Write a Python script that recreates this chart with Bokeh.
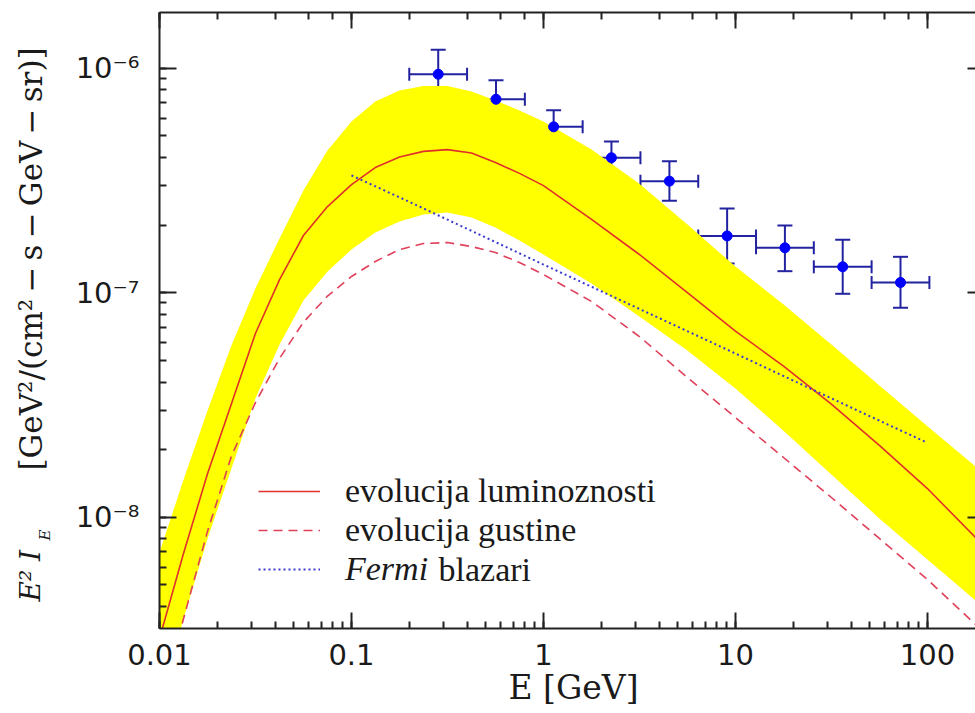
from bokeh.plotting import figure
from bokeh.models import (Range1d, LogAxis, LogTicker, CustomJSTickFormatter, Label,
                          Legend, LegendItem, Whisker, TeeHead, ColumnDataSource)
from bokeh.embed import file_html
from bokeh.resources import INLINE
import math

# Energy grid for the model curves [GeV]
energy = [0.01, 0.0133, 0.0178, 0.0237, 0.0316, 0.0422, 0.0562, 0.075, 0.1, 0.133,
          0.178, 0.237, 0.316, 0.422, 0.562, 0.75, 1.0, 1.78, 3.16, 5.62, 10, 17.8,
          31.6, 56.2, 100, 178]

# Luminosity-evolution model (solid) and its uncertainty band
lum_evol = [2.88e-9, 6.84e-9, 1.565e-8, 3.20e-8, 6.58e-8, 1.143e-7, 1.798e-7, 2.42e-7,
            3.03e-7, 3.61e-7, 4.02e-7, 4.26e-7, 4.34e-7, 4.19e-7, 3.80e-7, 3.40e-7,
            3.00e-7, 2.12e-7, 1.480e-7, 1.002e-7, 6.75e-8, 4.71e-8, 3.19e-8, 2.09e-8,
            1.342e-8, 8.12e-9]
band_upper = [6.96e-9, 1.457e-8, 2.99e-8, 5.82e-8, 1.044e-7, 1.744e-7, 2.85e-7, 4.30e-7,
              5.79e-7, 7.11e-7, 7.96e-7, 8.33e-7, 8.33e-7, 7.87e-7, 7.18e-7, 6.48e-7,
              5.79e-7, 4.34e-7, 3.06e-7, 2.012e-7, 1.308e-7, 8.86e-8, 5.88e-8, 3.86e-8,
              2.54e-8, 1.682e-8]
band_lower = [1.479e-9, 3.50e-9, 8.04e-9, 1.648e-8, 3.38e-8, 5.88e-8, 9.23e-8, 1.243e-7,
              1.557e-7, 1.854e-7, 2.076e-7, 2.23e-7, 2.276e-7, 2.163e-7, 1.952e-7, 1.708e-7,
              1.480e-7, 1.099e-7, 7.83e-8, 5.53e-8, 3.74e-8, 2.43e-8, 1.549e-8, 9.87e-9,
              6.48e-9, 4.26e-9]

# Density-evolution model (dashed)
dens_evol = [1.377e-9, 3.50e-9, 8.67e-9, 1.872e-8, 3.24e-8, 5.10e-8, 7.39e-8, 9.66e-8,
             1.181e-7, 1.377e-7, 1.557e-7, 1.656e-7, 1.673e-7, 1.606e-7, 1.510e-7, 1.363e-7,
             1.205e-7, 9.14e-8, 6.38e-8, 4.19e-8, 2.78e-8, 1.845e-8, 1.224e-8, 8.04e-9,
             5.28e-9, 3.33e-9]

# Fermi blazar contribution (dotted)
blazar_e = [0.1, 0.2, 0.5, 1, 2, 5, 10, 20, 50, 100]
blazar_flux = [3.33e-7, 2.54e-7, 1.762e-7, 1.335e-7, 1.015e-7, 7.06e-8, 5.36e-8,
               4.06e-8, 2.82e-8, 2.145e-8]

# Measured diffuse background: bin centres, bin edges and flux with errors
data_e = [0.283, 0.566, 1.13, 2.26, 4.53, 9.05, 18.1, 36.2, 72.4]
data_e_lo = [0.2, 0.4, 0.8, 1.6, 3.2, 6.4, 12.8, 25.6, 51.2]
data_e_hi = [0.4, 0.8, 1.6, 3.2, 6.4, 12.8, 25.6, 51.2, 102.4]
data_flux = [9.40e-7, 7.27e-7, 5.48e-7, 3.99e-7, 3.14e-7, 1.79e-7, 1.585e-7, 1.304e-7, 1.110e-7]
data_flux_hi = [1.208e-6, 8.84e-7, 6.50e-7, 4.72e-7, 3.85e-7, 2.37e-7, 1.99e-7, 1.72e-7, 1.445e-7]
data_flux_lo = [7.33e-7, 6.01e-7, 4.63e-7, 3.36e-7, 2.57e-7, 1.349e-7, 1.247e-7, 9.89e-8, 8.57e-8]

X_MIN, X_MAX = 0.01, 178.0
Y_MIN, Y_MAX = 10 ** -8.4957, 10 ** -5.7519

# frame geometry in canvas pixels
FRAME_LEFT, FRAME_TOP, FRAME_RIGHT, FRAME_BOTTOM = 159, 12, 975, 628
CANVAS_W, CANVAS_H = 975, 713
PX_PER_DEC_X = (FRAME_RIGHT - FRAME_LEFT) / (math.log10(X_MAX) - math.log10(X_MIN))
PX_PER_DEC_Y = (FRAME_BOTTOM - FRAME_TOP) / (math.log10(Y_MAX) - math.log10(Y_MIN))


def canvas_x(px):
    """Data x that lands on canvas column px."""
    return 10 ** (math.log10(X_MIN) + (px - FRAME_LEFT) / PX_PER_DEC_X)


def canvas_y(py):
    """Data y that lands on canvas row py (measured from the top)."""
    return 10 ** (math.log10(Y_MIN) + (FRAME_BOTTOM - py) / PX_PER_DEC_Y)


AXIS_COLOR = "#222222"
TICK_FONT = "DejaVu Sans"
TITLE_FONT = "DejaVu Serif"
LEGEND_FONT = "Liberation Serif"
TEXT_COLOR = "#1a1a1a"

p = figure(width=CANVAS_W, height=CANVAS_H, x_axis_type="log", y_axis_type="log",
           x_range=Range1d(X_MIN, X_MAX), y_range=Range1d(Y_MIN, Y_MAX),
           output_backend="svg", toolbar_location=None,
           min_border_left=FRAME_LEFT, min_border_right=CANVAS_W - FRAME_RIGHT,
           min_border_top=FRAME_TOP, min_border_bottom=CANVAS_H - FRAME_BOTTOM)
p.outline_line_color = None
p.background_fill_color = "white"
p.border_fill_color = "white"
p.xgrid.visible = False
p.ygrid.visible = False

x_fmt = CustomJSTickFormatter(code="""
    return tick >= 1 ? tick.toFixed(0) : String(parseFloat(tick.toPrecision(1)));
""")
y_fmt = CustomJSTickFormatter(code="""
    const e = Math.round(Math.log10(tick));
    const sup = {"-": "\u207b", "0": "\u2070", "1": "\u00b9", "2": "\u00b2", "3": "\u00b3",
                 "4": "\u2074", "5": "\u2075", "6": "\u2076", "7": "\u2077", "8": "\u2078", "9": "\u2079"};
    return "10" + String(e).split("").map(c => sup[c]).join("");
""")
blank_fmt = CustomJSTickFormatter(code="return '';")


def style_axis(ax, major_in, minor_in, show_line=True):
    ax.major_tick_in = major_in
    ax.major_tick_out = 0
    ax.minor_tick_in = minor_in
    ax.minor_tick_out = 0
    ax.major_tick_line_color = AXIS_COLOR
    ax.minor_tick_line_color = AXIS_COLOR
    ax.major_tick_line_width = 2
    ax.minor_tick_line_width = 2
    ax.axis_line_color = AXIS_COLOR if show_line else None
    ax.axis_line_width = 2


xa = p.xaxis[0]
style_axis(xa, 16, 7)
xa.formatter = x_fmt
xa.major_label_text_font = TICK_FONT
xa.major_label_text_font_size = "29px"
xa.major_label_text_color = TEXT_COLOR
xa.major_label_standoff = 15

ya = p.yaxis[0]
style_axis(ya, 17, 7)
ya.formatter = y_fmt
ya.major_label_text_font = TICK_FONT
ya.major_label_text_font_size = "29px"
ya.major_label_text_color = TEXT_COLOR
ya.major_label_standoff = 20

top = LogAxis(ticker=LogTicker(), formatter=blank_fmt)
style_axis(top, 16, 7)
top.major_label_standoff = 0
top.major_label_text_font_size = "1px"
p.add_layout(top, "above")

right = LogAxis(ticker=LogTicker(), formatter=blank_fmt)
style_axis(right, 8, 0, show_line=False)
right.major_label_standoff = 0
right.major_label_text_font_size = "1px"
p.add_layout(right, "right")

# uncertainty band of the luminosity-evolution model
p.varea(x=energy, y1=band_lower, y2=band_upper, fill_color="#ffff00", fill_alpha=1.0)

r_lum = p.line(energy, lum_evol, line_color="#e0302a", line_width=1.6)
r_dens = p.line(energy, dens_evol, line_color="#e0405a", line_width=1.6, line_dash="9 6")
r_blz = p.line(blazar_e, blazar_flux, line_color="#3a3ad0", line_width=2, line_dash="2 3")

# measured points with energy-bin and flux error bars
src = ColumnDataSource(dict(e=data_e, elo=data_e_lo, ehi=data_e_hi,
                            f=data_flux, flo=data_flux_lo, fhi=data_flux_hi))
ERR_COLOR = "#2323a0"
p.add_layout(Whisker(source=src, base="e", lower="flo", upper="fhi", dimension="height",
                     line_color=ERR_COLOR, line_width=2,
                     lower_head=TeeHead(size=15, line_color=ERR_COLOR, line_width=2),
                     upper_head=TeeHead(size=15, line_color=ERR_COLOR, line_width=2)))
p.add_layout(Whisker(source=src, base="f", lower="elo", upper="ehi", dimension="width",
                     line_color=ERR_COLOR, line_width=2,
                     lower_head=TeeHead(size=13, line_color=ERR_COLOR, line_width=2),
                     upper_head=TeeHead(size=13, line_color=ERR_COLOR, line_width=2)))
p.scatter("e", "f", source=src, size=10, fill_color="#0000ff", line_color="#0000ff")


def legend_row(renderer, text, loc, style="normal"):
    lg = Legend(items=[LegendItem(label=text, renderers=[renderer])], location=loc,
                orientation="vertical", glyph_width=62, glyph_height=44, label_height=44,
                label_standoff=25, padding=0, margin=0, spacing=0,
                border_line_color=None, background_fill_alpha=0,
                label_text_font=LEGEND_FONT, label_text_font_size="34px",
                label_text_font_style=style, label_text_color=TEXT_COLOR)
    p.add_layout(lg)


legend_row(r_lum, "evolucija luminoznosti", (99, 115))
legend_row(r_dens, "evolucija gustine", (99, 76))
legend_row(r_blz, "Fermi", (99, 37), style="italic")
p.add_layout(Label(x=279, y=59, x_units="screen", y_units="screen", text="blazari",
                   text_font=LEGEND_FONT, text_font_size="34px", text_color=TEXT_COLOR,
                   text_baseline="middle", text_align="left"))


def title_piece(side, text, px, py, size="28px", style="normal", angle=0.0):
    # side-panel labels are not clipped to the frame; they are placed through the
    # data scales so that their position does not depend on the panel they sit in
    p.add_layout(Label(x=canvas_x(px), y=canvas_y(py), text=text,
                       angle=angle, text_font=TITLE_FONT, text_font_style=style,
                       text_font_size=size, text_color=TEXT_COLOR,
                       text_baseline="middle", text_align="left"), side)


THIN = "\u2009"
MINUS = "\u2212"
units = f"[GeV\u00b2/(cm\u00b2{THIN}{MINUS}{THIN}s{THIN}{MINUS}{THIN}GeV{THIN}{MINUS}{THIN}sr)]"

# axis titles
title_piece("below", "E [GeV]", 508, 687, size="33px")
title_piece("left", "E\u00b2 I", 30, 601, style="italic", angle=math.pi / 2)
title_piece("left", units, 30, 470, size="31px", angle=math.pi / 2)
title_piece("above", "E", 44, 540, size="15px", style="italic", angle=math.pi / 2)

open("out.html", "w").write(file_html(p, INLINE))
